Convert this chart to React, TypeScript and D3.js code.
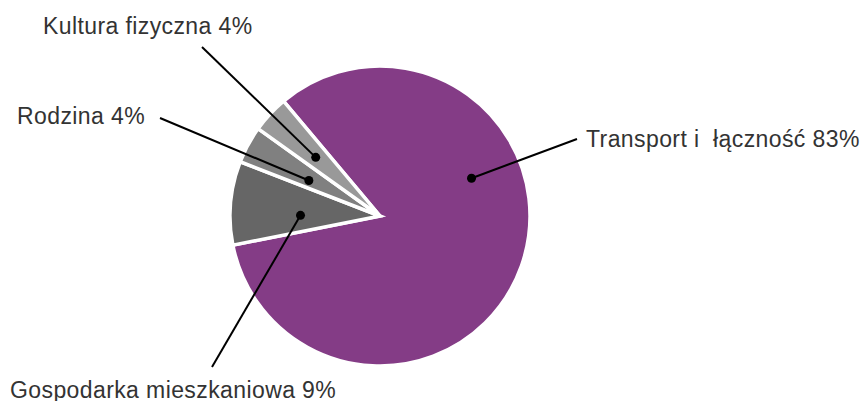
import { useMemo } from "react";
import * as d3 from "d3";

// Data
const categories = ["Transport i  łączność", "Gospodarka mieszkaniowa", "Rodzina", "Kultura fizyczna"];
const shares = [83, 9, 4, 4];
const colors = ["#843c86", "#666666", "#808080", "#999999"];

// Label layout: where the dot sits inside the slice (t = fraction of slice angle, rf = fraction of radius)
// plus label anchor and leader start
const labelLayout = [
  { t: 0.36, rf: 0.66, lx: 586, ly: 147, sx: 577, sy: 139 },
  { t: 0.36, rf: 0.53, lx: 10, ly: 398, sx: 212, sy: 367 },
  { t: 0.37, rf: 0.53, lx: 17, ly: 124, sx: 160, sy: 118 },
  { t: 0.47, rf: 0.58, lx: 43, ly: 34, sx: 202, sy: 47 },
];

const width = 862;
const height = 401;
const cx = 380;
const cy = 216;
const radius = 150;

export default function App() {
  const slices = useMemo(() => {
    const pie = d3
      .pie<number>()
      .sort(null)
      .startAngle((-40 * Math.PI) / 180)
      .endAngle((320 * Math.PI) / 180);
    return pie(shares);
  }, []);

  const arc = d3.arc<d3.PieArcDatum<number>>().innerRadius(0).outerRadius(radius);

  return (
    <svg
      width={width}
      height={height}
      style={{ position: "absolute", left: 0, top: 0, background: "#fff" }}
      fontFamily='"Liberation Sans", Arial, sans-serif'
    >
      <g transform={`translate(${cx},${cy})`}>
        {slices.map((s, i) => (
          <path key={i} d={arc(s) ?? ""} fill={colors[i]} stroke="#fff" strokeWidth={3.5} />
        ))}
      </g>
      {slices.map((s, i) => {
        const L = labelLayout[i];
        const a = s.startAngle + (s.endAngle - s.startAngle) * L.t;
        const r = radius * L.rf;
        const dx = cx + Math.sin(a) * r;
        const dy = cy - Math.cos(a) * r;
        return (
          <g key={i}>
            <line x1={L.sx} y1={L.sy} x2={dx} y2={dy} stroke="#000" strokeWidth={2} />
            <circle cx={dx} cy={dy} r={4.5} fill="#000" />
            <text
              x={L.lx}
              y={L.ly}
              fontSize={23}
              fill="#333"
              letterSpacing={0.4}
              style={{ whiteSpace: "pre" }}
            >
              {`${categories[i]} ${shares[i]}%`}
            </text>
          </g>
        );
      })}
    </svg>
  );
}
